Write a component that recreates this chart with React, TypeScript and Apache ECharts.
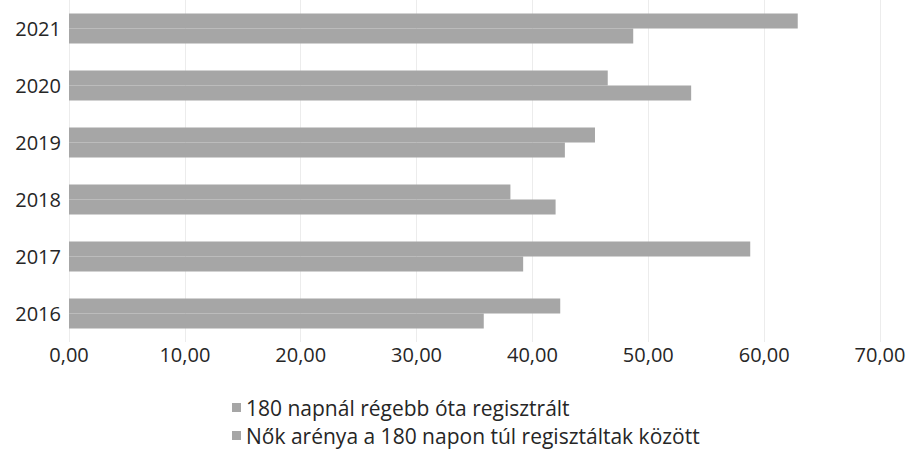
import React, { useEffect, useRef } from "react";
import * as echarts from "echarts";

const years = ["2016", "2017", "2018", "2019", "2020", "2021"];
const seriesNames = [
  "180 napnál régebb óta regisztrált",
  "Nők arénya a 180 napon túl regisztáltak között",
];
const registered180 = [35.8, 39.2, 42.0, 42.8, 53.7, 48.7];
const womenShare = [42.4, 58.8, 38.1, 45.4, 46.5, 62.9];
const xTicks = { min: 0, max: 70, interval: 10 };

const FONT = "'Open Sans', sans-serif";
const TEXT = "#262626";
const BAR = "#a6a6a6";

export default function App() {
  const ref = useRef<HTMLDivElement>(null);
  useEffect(() => {
    if (!ref.current) return;
    const chart = echarts.init(ref.current, undefined, { renderer: "svg" });
    chart.setOption({
      animation: false,
      backgroundColor: "#ffffff",
      grid: { left: 69, right: 35, top: -7, bottom: 112, containLabel: false },
      xAxis: {
        type: "value",
        min: xTicks.min,
        max: xTicks.max,
        interval: xTicks.interval,
        axisLine: { show: false },
        axisTick: { show: false },
        splitLine: { show: true, lineStyle: { color: "#ececec", width: 1 } },
        axisLabel: {
          color: TEXT,
          fontFamily: FONT,
          fontSize: 20,
          margin: 2,
          formatter: (v: number) => v.toFixed(2).replace(".", ","),
        },
      },
      yAxis: {
        type: "category",
        data: years,
        axisLine: { show: false },
        axisTick: { show: false },
        axisLabel: { color: TEXT, fontFamily: FONT, fontSize: 20, margin: 8 },
      },
      legend: {
        orient: "vertical",
        left: 229,
        top: 394,
        height: 60,
        padding: 3,
        itemWidth: 9,
        itemHeight: 9,
        itemGap: 7,
        icon: "rect",
        data: seriesNames,
        textStyle: { color: TEXT, fontFamily: FONT, fontSize: 21, lineHeight: 21 },
      },
      series: [
        {
          name: seriesNames[1],
          type: "bar",
          data: womenShare,
          itemStyle: { color: BAR },
          barCategoryGap: "47%",
          barGap: "0%",
        },
        {
          name: seriesNames[0],
          type: "bar",
          data: registered180,
          itemStyle: { color: BAR },
          barCategoryGap: "47%",
          barGap: "0%",
        },
      ],
    });
    return () => chart.dispose();
  }, []);
  return <div ref={ref} style={{ width: 915, height: 454, position: "absolute", left: 0, top: 0 }} />;
}
